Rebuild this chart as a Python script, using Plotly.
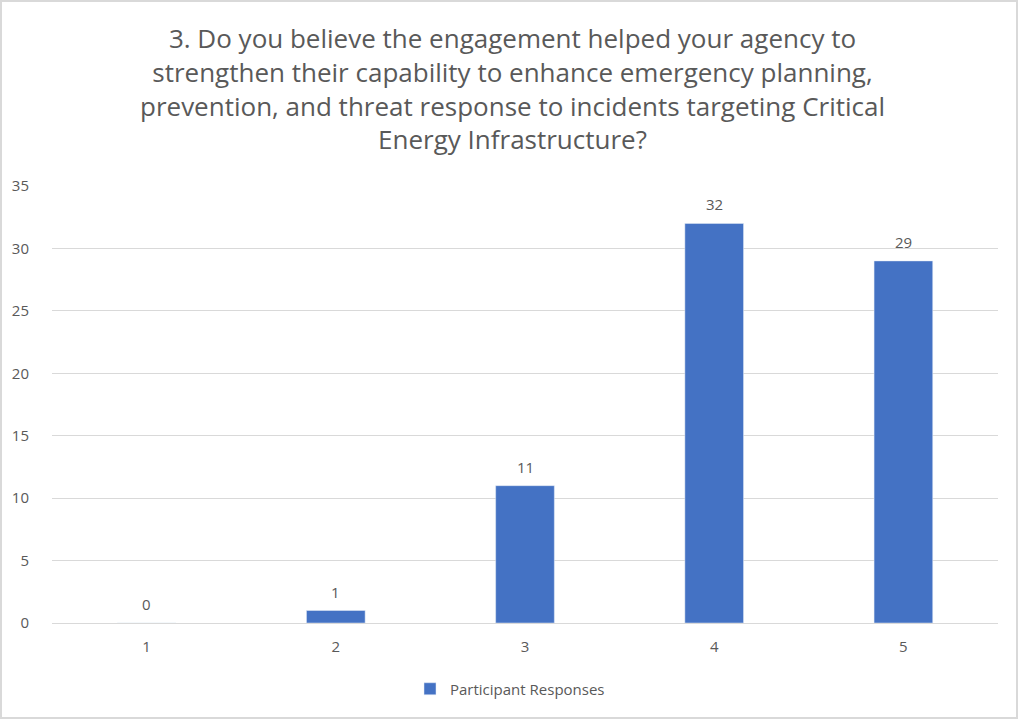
import plotly.graph_objects as go

categories = ["1", "2", "3", "4", "5"]
responses = [0, 1, 11, 32, 29]
series_name = "Participant Responses"
title_lines = [
    "3. Do you believe the engagement helped your agency to",
    "strengthen their capability to enhance emergency planning,",
    "prevention, and threat response to incidents targeting Critical",
    "Energy Infrastructure?",
]

GRAY = "#595959"
FONT = "Open Sans"
W, H = 1018, 719
L, R, T, B = 52, 20, 186, 96
pw, ph = W - L - R, H - T - B

fig = go.Figure()
fig.add_trace(go.Bar(
    x=categories, y=responses, name=series_name,
    marker=dict(color="#4472C4"),
    showlegend=True,
))

# data labels: on a category axis, annotation x is the category index
annotations = [
    dict(x=i, y=v, xref="x", yref="y", text=str(v), showarrow=False,
         yanchor="middle", yshift=19,
         font=dict(size=15, color=GRAY, family=FONT))
    for i, v in enumerate(responses)
]
annotations.append(dict(
    text="<br>".join(title_lines), xref="paper", yref="paper",
    x=0.5 + (512 - (L + pw / 2)) / pw, y=1 + (T - 88) / ph,
    xanchor="center", yanchor="middle", showarrow=False, align="center",
    font=dict(size=26, color=GRAY, family=FONT),
))

fig.update_layout(
    width=W, height=H,
    margin=dict(l=L, r=R, t=T, b=B),
    paper_bgcolor="white", plot_bgcolor="white",
    bargap=0.69,
    annotations=annotations,
    xaxis=dict(type="category", showgrid=False, showline=True, linecolor="#d9d9d9",
               range=[-0.5, len(categories) - 0.5],
               tickfont=dict(size=15, color=GRAY, family=FONT), ticks="",
               ticklabelstandoff=10),
    yaxis=dict(range=[0, 35], dtick=5, showgrid=True, gridcolor="#d9d9d9", zeroline=False,
               tickfont=dict(size=15, color=GRAY, family=FONT), ticks="",
               ticklabelstandoff=22),
    legend=dict(orientation="h", x=(510 - L) / pw, xanchor="center",
                y=-(689 - T - ph) / ph, yanchor="middle", itemwidth=30,
                font=dict(size=15, color=GRAY, family=FONT)),
    shapes=[dict(type="rect", xref="paper", yref="paper",
                 x0=(1 - L) / pw, x1=(W - 1 - L) / pw,
                 y0=-(H - 1 - T - ph) / ph, y1=1 + (T - 1) / ph,
                 line=dict(color="#d9d9d9", width=2), layer="below")],
)

fig.write_html("out.html", config={"displayModeBar": False},
               post_script="document.body.style.margin='0';")
